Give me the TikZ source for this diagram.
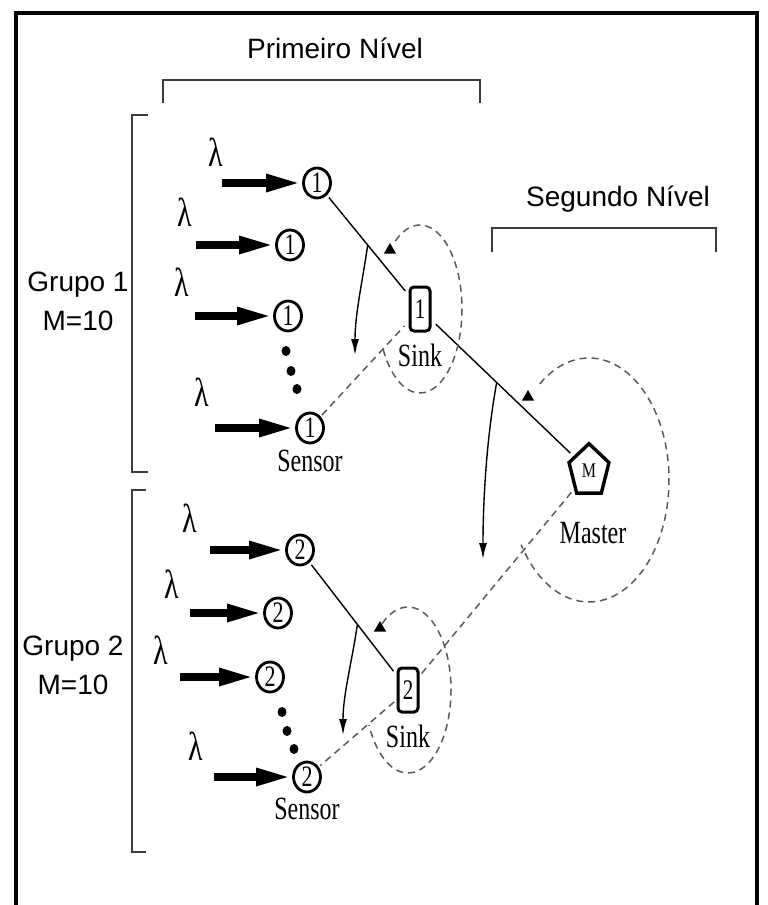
\documentclass[tikz,border=0pt]{standalone}
\usepackage{fontspec}
\usepackage{graphicx}
\setmainfont{Liberation Serif}
\setsansfont{Liberation Sans}
\usetikzlibrary{arrows.meta, positioning, shapes.geometric, calc}
\definecolor{cgrey}{HTML}{3C3C3C}
\definecolor{cdash}{HTML}{5A5A5A}
% the serif lettering of the network is set taller than wide
\newcommand{\tall}[1]{\scalebox{1}[1.35]{#1}}
\tikzset{
  every picture/.style={x=1pt, y=-1pt, line width=1.3pt},
  heading/.style={font=\sffamily\fontsize{28}{39}\selectfont, align=center, inner sep=0pt},
  serif/.style={font=\fontsize{24}{26}\selectfont, inner sep=0pt},
  greek/.style={font=\fontsize{30}{32}\selectfont, inner sep=0pt},
  sensor/.style={draw, ellipse, line width=2.8pt, minimum width=27pt, minimum height=30pt, inner sep=0pt, font=\fontsize{22}{22}\selectfont},
  sinkbox/.style={draw, rectangle, rounded corners=4pt, line width=3pt, minimum width=20pt, minimum height=44pt, inner sep=0pt, font=\fontsize{21}{22}\selectfont},
  masterbox/.style={draw, regular polygon, regular polygon sides=5, line width=3.4pt, minimum size=42pt, inner sep=0pt, font=\fontsize{16}{17}\selectfont},
  rate/.style={-{Triangle[length=36pt, width=16pt]}, line width=8pt},
  link/.style={line width=1.4pt},
  radio/.style={draw=cdash, line width=1.5pt, dash pattern=on 7pt off 5pt},
  sweep/.style={-{Latex[length=16pt, width=8pt]}, line width=1.4pt},
  flag/.style={fill, regular polygon, regular polygon sides=3, minimum size=14pt, inner sep=0pt},
  seqdot/.style={fill, ellipse, minimum width=9pt, minimum height=10pt, inner sep=0pt},
  brace/.style={draw=cgrey, line width=1.6pt},
}

\begin{document}
\begin{tikzpicture}
  \useasboundingbox (0,0) rectangle (768,905);
  % frame round the figure, open at the bottom edge
  \draw[line width=3.5pt] (16,915) -- (16,13) -- (757,13) -- (757,915);

  % level headings and their brackets
  \node[heading, anchor=base] (lvl1) at (335,58) {Primeiro Nível};
  \draw[brace] (163,103) -- (163,80) -- (480,80) -- (480,103);
  \node[heading, anchor=base] (lvl2) at (618,206) {Segundo Nível};
  \draw[brace] (492,252) -- (492,228) -- (716,228) -- (716,252);

  % group labels and their brackets
  \node[heading] (grp1) at (78,301) {Grupo 1\\M=10};
  \draw[brace] (148,115) -- (132,115) -- (132,472) -- (148,472);
  \node[heading] (grp2) at (73,665) {Grupo 2\\M=10};
  \draw[brace] (146,490) -- (132,490) -- (132,852) -- (146,852);

  % group 1: sensors fed by Poisson arrivals
  \node[sensor] (s11) at (317,183) {\tall{1}};
  \node[sensor] (s12) at (290,245) {\tall{1}};
  \node[sensor] (s13) at (288,316) {\tall{1}};
  \node[sensor] (s14) at (310,428) {\tall{1}};
  \node[serif, below=5pt of s14] (sen1) {\tall{Sensor}};
  \node[seqdot] (d11) at (286,351) {};
  \node[seqdot] (d12) at (291,371) {};
  \node[seqdot] (d13) at (297,389) {};
  \node[greek] (l11) at (216,152) {\tall{λ}};
  \node[greek] (l12) at (185,212) {\tall{λ}};
  \node[greek] (l13) at (182,282) {\tall{λ}};
  \node[greek] (l14) at (202,392) {\tall{λ}};
  \coordinate[left=80pt of s11] (in11);
  \coordinate[left=79pt of s12] (in12);
  \coordinate[left=78pt of s13] (in13);
  \coordinate[left=80pt of s14] (in14);
  \draw[rate] (in11) -- (s11);
  \draw[rate] (in12) -- (s12);
  \draw[rate] (in13) -- (s13);
  \draw[rate] (in14) -- (s14);

  % group 2
  \node[sensor] (s21) at (300,550) {\tall{2}};
  \node[sensor] (s22) at (278,613) {\tall{2}};
  \node[sensor] (s23) at (270,677) {\tall{2}};
  \node[sensor] (s24) at (307,777) {\tall{2}};
  \node[serif, below=4pt of s24] (sen2) {\tall{Sensor}};
  \node[seqdot] (d21) at (282,712) {};
  \node[seqdot] (d22) at (287,731) {};
  \node[seqdot] (d23) at (294,749) {};
  \node[greek] (l21) at (190,518) {\tall{λ}};
  \node[greek] (l22) at (172,584) {\tall{λ}};
  \node[greek] (l23) at (161,650) {\tall{λ}};
  \node[greek] (l24) at (196,746) {\tall{λ}};
  \coordinate[left=75pt of s21] (in21);
  \coordinate[left=73pt of s22] (in22);
  \coordinate[left=75pt of s23] (in23);
  \coordinate[left=78pt of s24] (in24);
  \draw[rate] (in21) -- (s21);
  \draw[rate] (in22) -- (s22);
  \draw[rate] (in23) -- (s23);
  \draw[rate] (in24) -- (s24);

  % sinks and master
  \node[sinkbox] (sink1) at (420,309) {\tall{1}};
  \node[serif, below=11pt of sink1] (snk1) {\tall{Sink}};
  \node[sinkbox] (sink2) at (408,690) {\tall{2}};
  \node[serif, below=11pt of sink2] (snk2) {\tall{Sink}};
  \begin{scope}[shift={(589,471)}, yscale=1.3, transform shape]
    \node[masterbox] (master) at (0,0) {M};
  \end{scope}
  \node[serif] (mst) at (593,533) {\tall{Master}};

  % solid links upwards, dashed links downwards
  \draw[link, shorten <=3pt, shorten >=5pt] (s11) -- (sink1);
  \draw[link, shorten <=6pt, shorten >=4pt] (sink1) -- (master);
  \draw[link, shorten <=3pt, shorten >=5pt] (s21) -- (sink2);
  \draw[radio, shorten <=2pt, shorten >=6pt] (s14) -- (sink1);
  \draw[radio, shorten <=4pt, shorten >=3pt] (master) -- (sink2);
  \draw[radio, shorten <=3pt, shorten >=2pt] (sink2) -- (s24);

  % coverage arcs round each collecting node
  \draw[radio] (sink1) ++(126:42pt and 84pt) arc[start angle=126, end angle=-155, x radius=42pt, y radius=84pt];
  \draw[radio] (master) ++(0,9) ++(128:80pt and 122pt) arc[start angle=128, end angle=-148, x radius=80pt, y radius=122pt];
  \draw[radio] (sink2) ++(127:43pt and 83pt) arc[start angle=127, end angle=-155, x radius=43pt, y radius=83pt];

  % small markers on the incoming links
  \node[flag] (f1) at (390,250) {};
  \node[flag] (f2) at (528,397) {};
  \node[flag] (f3) at (380,628) {};

  % turning arrows from the incoming to the outgoing direction
  \path (s11) -- (sink1) coordinate[pos=.5] (t1);
  \path (sink1) -- (master) coordinate[pos=.46] (t2);
  \path (s21) -- (sink2) coordinate[pos=.55] (t3);
  \coordinate (e1) at (355,355);
  \coordinate (e2) at (483,559);
  \coordinate (e3) at (343,735);
  \draw[sweep] (t1) .. controls +(-6,40) and +(0,-40) .. (e1);
  \draw[sweep] (t2) .. controls +(-10,55) and +(0,-60) .. (e2);
  \draw[sweep] (t3) .. controls +(-6,40) and +(0,-40) .. (e3);
\end{tikzpicture}
\end{document}
